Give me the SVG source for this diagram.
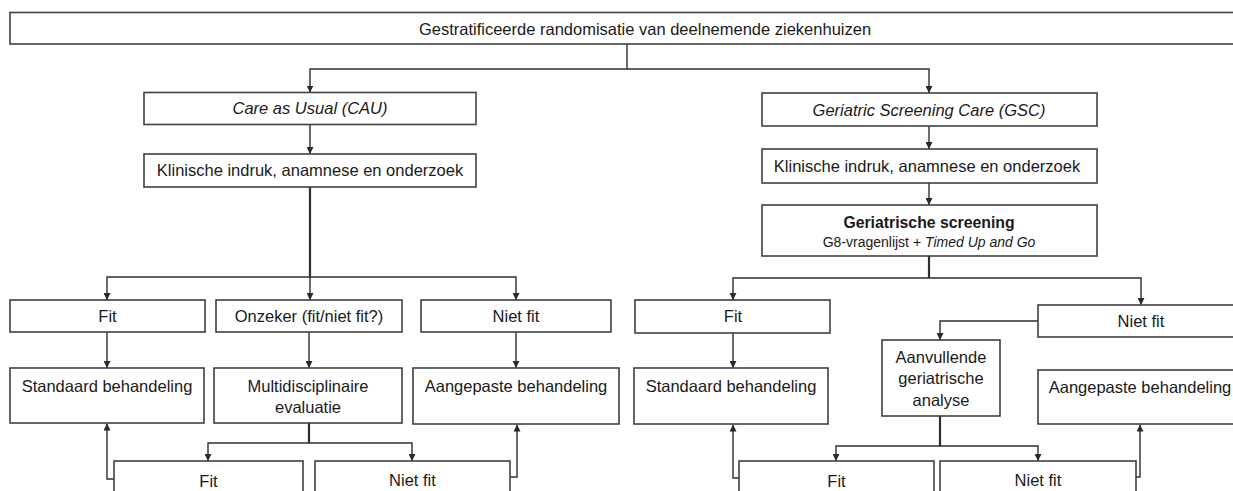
<svg xmlns="http://www.w3.org/2000/svg" width="1233" height="491" viewBox="0 0 1233 491">
<defs>
<marker id="ah" viewBox="0 0 10 10" refX="10" refY="5" markerWidth="7" markerHeight="7" markerUnits="userSpaceOnUse" orient="auto">
<path d="M0,0 L10,5 L0,10 z" fill="#2a2a2a"/>
</marker>
<style>
.box{fill:#fff;stroke:#404040;stroke-width:1.6}
.t{font-family:"Liberation Sans",Arial,sans-serif;font-size:16.5px;fill:#1a1a1a;text-anchor:middle}
.i{font-style:italic}
.b{font-weight:bold;font-size:15.8px}
.s{font-size:14px}
.c{fill:none;stroke:#2e2e2e;stroke-width:1.4}
.k{stroke-width:2.2}
.a{marker-end:url(#ah)}
</style>
</defs>
<rect width="1233" height="491" fill="#fff"/>
<g id="connectors">
<path class="c" d="M627,44 V69"/>
<path class="c a" d="M627,69 H310 V92.5"/>
<path class="c a" d="M627,69 H929 V93"/>
<path class="c a" d="M310,124.5 V154"/>
<path class="c k" d="M310,187 V277"/>
<path class="c a" d="M310,277 H107 V300"/>
<path class="c a" d="M310,277 V300"/>
<path class="c a" d="M310,277 H516 V300"/>
<path class="c a" d="M107,332 V368"/>
<path class="c a" d="M309,332 V368"/>
<path class="c a" d="M516,332 V368"/>
<path class="c k" d="M309,423 V443"/>
<path class="c a" d="M309,443 H208 V461"/>
<path class="c a" d="M309,443 H412 V461"/>
<path class="c a" d="M114,479 H107 V423.5"/>
<path class="c a" d="M510,477 H517 V424.5"/>
<path class="c a" d="M929,126 V149"/>
<path class="c a" d="M929,183 V205"/>
<path class="c k" d="M929,256 V278"/>
<path class="c a" d="M929,278 H733 V300"/>
<path class="c a" d="M929,278 H1141 V305"/>
<path class="c a" d="M733,333 V368"/>
<path class="c a" d="M1038,321 H940 V340"/>
<path class="c k" d="M940,416 V446"/>
<path class="c a" d="M940,446 H836 V461"/>
<path class="c a" d="M940,446 H1038 V461"/>
<path class="c a" d="M739,478 H733 V424.5"/>
<path class="c a" d="M1136,477 H1140 V424.5"/>
</g>
<g id="n-top"><rect class="box" x="10" y="12.5" width="1270" height="31.5"/><text class="t" x="645" y="34.5">Gestratificeerde randomisatie van deelnemende ziekenhuizen</text></g>
<g id="n-cau"><rect class="box" x="144" y="92.5" width="332" height="32"/><text class="t i" x="310" y="114">Care as Usual (CAU)</text></g>
<g id="n-klin-l"><rect class="box" x="144" y="154" width="332" height="33"/><text class="t" x="310" y="176">Klinische indruk, anamnese en onderzoek</text></g>
<g id="n-fit-l"><rect class="box" x="10" y="300" width="195" height="32"/><text class="t" x="107.5" y="322">Fit</text></g>
<g id="n-onz"><rect class="box" x="216" y="300" width="186" height="32"/><text class="t" x="309" y="322">Onzeker (fit/niet fit?)</text></g>
<g id="n-nf-l"><rect class="box" x="421" y="300" width="190" height="32"/><text class="t" x="516" y="322">Niet fit</text></g>
<g id="n-std-l"><rect class="box" x="10" y="368" width="194" height="55"/><text class="t" x="107" y="392">Standaard behandeling</text></g>
<g id="n-multi"><rect class="box" x="214" y="368" width="188" height="55"/><text class="t" x="308" y="392">Multidisciplinaire</text><text class="t" x="308" y="413">evaluatie</text></g>
<g id="n-aang-l"><rect class="box" x="413" y="368" width="206" height="56"/><text class="t" x="516" y="392">Aangepaste behandeling</text></g>
<g id="n-fit-bl"><rect class="box" x="114" y="461" width="189" height="45"/><text class="t" x="208.5" y="487">Fit</text></g>
<g id="n-nf-bl"><rect class="box" x="315" y="461" width="195" height="45"/><text class="t" x="412.5" y="486">Niet fit</text></g>
<g id="n-gsc"><rect class="box" x="762" y="93" width="335" height="33"/><text class="t i" x="929" y="115.5">Geriatric Screening Care (GSC)</text></g>
<g id="n-klin-r"><rect class="box" x="762" y="149" width="335" height="34"/><text class="t" x="927" y="172">Klinische indruk, anamnese en onderzoek</text></g>
<g id="n-scr"><rect class="box" x="762" y="205" width="335" height="51"/><text class="t b" x="929" y="228">Geriatrische screening</text><text class="t s" x="929" y="247">G8-vragenlijst + <tspan class="i">Timed Up and Go</tspan></text></g>
<g id="n-fit-r"><rect class="box" x="635" y="300" width="195" height="33"/><text class="t" x="733" y="322">Fit</text></g>
<g id="n-nf-r"><rect class="box" x="1038" y="305" width="203" height="32"/><text class="t" x="1141" y="327">Niet fit</text></g>
<g id="n-std-r"><rect class="box" x="634" y="368" width="194" height="56"/><text class="t" x="731" y="392">Standaard behandeling</text></g>
<g id="n-aanv"><rect class="box" x="882" y="340" width="118" height="76"/><text class="t" x="941" y="362.5">Aanvullende</text><text class="t" x="941" y="384">geriatrische</text><text class="t" x="941" y="405.5">analyse</text></g>
<g id="n-aang-r"><rect class="box" x="1038" y="370" width="203" height="54"/><text class="t" x="1140" y="393">Aangepaste behandeling</text></g>
<g id="n-fit-br"><rect class="box" x="739" y="461" width="195" height="45"/><text class="t" x="836.5" y="487">Fit</text></g>
<g id="n-nf-br"><rect class="box" x="940" y="461" width="196" height="45"/><text class="t" x="1038" y="486">Niet fit</text></g>
</svg>
